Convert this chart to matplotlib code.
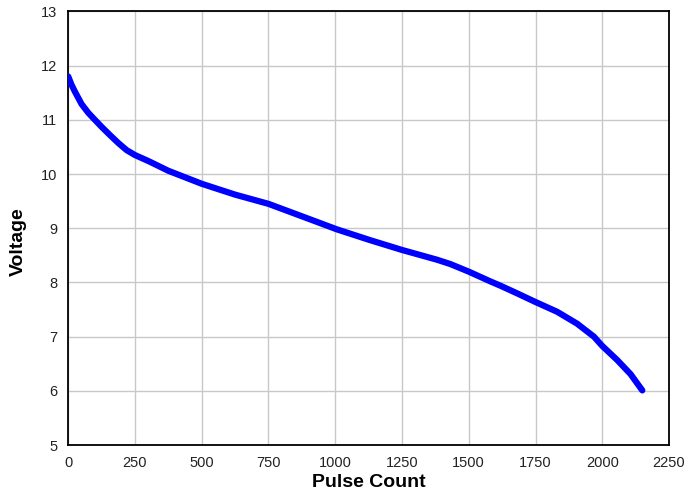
import matplotlib

matplotlib.use('Agg')
import matplotlib.pyplot as plt

# pulse count vs. voltage
pulses = [0, 12, 25, 50, 75, 94, 125, 156, 188, 219, 250, 300, 375, 500, 625,
          750, 881, 1006, 1131, 1250, 1381, 1431, 1500, 1581, 1619, 1681, 1750,
          1831, 1906, 1969, 2000, 2056, 2106, 2150]
voltage = [11.80, 11.65, 11.52, 11.29, 11.13, 11.03, 10.87, 10.72, 10.57, 10.44,
           10.35, 10.24, 10.06, 9.82, 9.62, 9.45, 9.21, 8.98, 8.78, 8.60, 8.42,
           8.34, 8.20, 8.02, 7.94, 7.80, 7.64, 7.46, 7.24, 7.00, 6.83, 6.57,
           6.31, 6.01]

x_ticks = [0, 250, 500, 750, 1000, 1250, 1500, 1750, 2000, 2250]
y_ticks = [5, 6, 7, 8, 9, 10, 11, 12, 13]

plt.rcParams['font.family'] = ['Liberation Sans', 'DejaVu Sans']

fig = plt.figure(figsize=(6.89, 4.93), dpi=100)
ax = fig.add_axes([0.099, 0.097, 0.872, 0.88])

ax.plot(pulses, voltage, color='#0000ff', lw=4.5, solid_capstyle='round',
        solid_joinstyle='round', zorder=3)

ax.set_xlim(0, 2250)
ax.set_ylim(5, 13)
ax.set_xticks(x_ticks)
ax.set_yticks(y_ticks)
ax.grid(True, color='#c8c8c8', lw=1)
ax.set_axisbelow(True)
ax.tick_params(length=0, labelsize=10.5, colors='#222222')
ax.tick_params(axis='x', pad=8)
ax.tick_params(axis='y', pad=8)
for s in ax.spines.values():
    s.set_color('black')
    s.set_linewidth(1.3)

ax.set_xlabel('Pulse Count', fontsize=14, fontweight='bold')
ax.set_ylabel('Voltage', fontsize=14, fontweight='bold')
ax.xaxis.set_label_coords(0.50, -0.066)
ax.yaxis.set_label_coords(-0.068, 0.47)

fig.savefig('out.png', dpi=100)
